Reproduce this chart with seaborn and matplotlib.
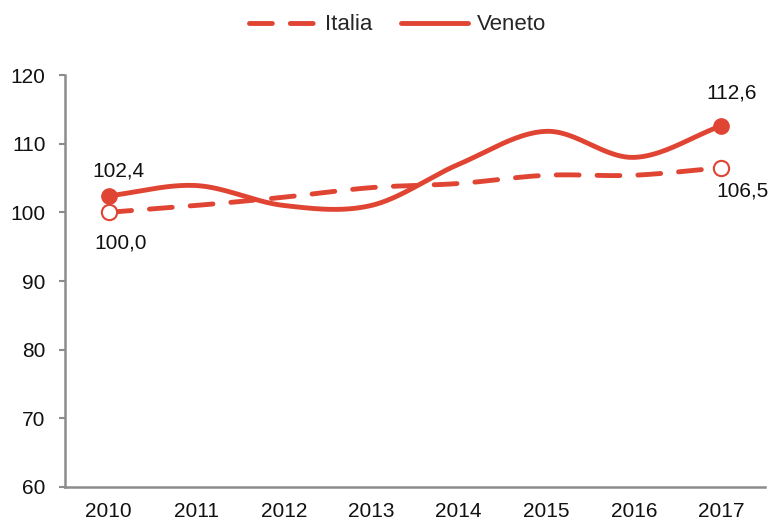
import numpy as np
import pandas as pd
import matplotlib
matplotlib.use("Agg")
import matplotlib.pyplot as plt
import seaborn as sns
from matplotlib.lines import Line2D

# Index values (2010 = 100 for Italia)
anni = [2010, 2011, 2012, 2013, 2014, 2015, 2016, 2017]
italia = [100.0, 101.0, 102.2, 103.6, 104.2, 105.4, 105.4, 106.5]
veneto = [102.4, 103.9, 101.0, 101.0, 107.0, 111.8, 108.0, 112.6]
y_ticks = [60, 70, 80, 90, 100, 110, 120]

ROSSO = "#E04433"
GRIGIO = "#8C8C8C"
DASH = (4.7, 3.7)

sns.set_theme(style="white")
plt.rcParams["font.family"] = ["Liberation Sans", "DejaVu Sans"]


def smooth(xs, ys, n=40):
    """Catmull-Rom curve through the given points."""
    x = np.asarray(xs, float)
    y = np.asarray(ys, float)
    px = np.concatenate([[2 * x[0] - x[1]], x, [2 * x[-1] - x[-2]]])
    py = np.concatenate([[2 * y[0] - y[1]], y, [2 * y[-1] - y[-2]]])
    out_x, out_y = [], []
    t = np.linspace(0, 1, n, endpoint=False)
    for i in range(1, len(px) - 2):
        for p, out in ((px, out_x), (py, out_y)):
            p0, p1, p2, p3 = p[i - 1], p[i], p[i + 1], p[i + 2]
            out.extend(0.5 * ((2 * p1) + (-p0 + p2) * t
                              + (2 * p0 - 5 * p1 + 4 * p2 - p3) * t ** 2
                              + (-p0 + 3 * p1 - 3 * p2 + p3) * t ** 3))
    out_x.append(x[-1])
    out_y.append(y[-1])
    return np.array(out_x), np.array(out_y)


fig = plt.figure(figsize=(7.78, 5.23), dpi=100)
ax = fig.add_axes([65 / 778, 36 / 523, 700 / 778, 412 / 523])

xi, yi = smooth(anni, italia)
xv, yv = smooth(anni, veneto)
df_i = pd.DataFrame({"anno": xi, "valore": yi})
df_v = pd.DataFrame({"anno": xv, "valore": yv})

sns.lineplot(data=df_i, x="anno", y="valore", ax=ax, color=ROSSO, lw=3.5,
             sort=False, estimator=None)
ax.lines[-1].set_dashes(DASH)
ax.lines[-1].set_dash_capstyle("round")
sns.lineplot(data=df_v, x="anno", y="valore", ax=ax, color=ROSSO, lw=3.5,
             sort=False, estimator=None)
ax.lines[-1].set_solid_capstyle("round")

# End-point markers
ends = [0, len(anni) - 1]
ax.plot([anni[i] for i in ends], [italia[i] for i in ends], "o", ms=11,
        mfc="white", mec=ROSSO, mew=1.5, zorder=5)
ax.plot([anni[i] for i in ends], [veneto[i] for i in ends], "o", ms=11,
        mfc=ROSSO, mec=ROSSO, zorder=5)


def fmt(v):
    return f"{v:.1f}".replace(".", ",")


FS = 15
lbl = dict(textcoords="offset pixels", ha="center", va="center",
           fontsize=FS, color="#111111")
ax.annotate(fmt(veneto[0]), (anni[0], veneto[0]), xytext=(10, 25), **lbl)
ax.annotate(fmt(italia[0]), (anni[0], italia[0]), xytext=(12, -31), **lbl)
ax.annotate(fmt(veneto[-1]), (anni[-1], veneto[-1]), xytext=(10, 33), **lbl)
ax.annotate(fmt(italia[-1]), (anni[-1], italia[-1]), xytext=(21, -23), **lbl)

ax.set_xlim(anni[0] - 0.5, anni[-1] + 0.5)
ax.set_ylim(60, 120)
ax.set_xticks(anni)
ax.set_xticklabels([str(a) for a in anni])
ax.set_yticks(y_ticks)
ax.set_xlabel("")
ax.set_ylabel("")

for s in ("top", "right"):
    ax.spines[s].set_visible(False)
for s in ("left", "bottom"):
    ax.spines[s].set_color(GRIGIO)
    ax.spines[s].set_linewidth(1.8)
ax.tick_params(axis="y", length=4, width=1.5, color=GRIGIO, pad=10,
               labelsize=FS, labelcolor="#111111", left=True)
ax.tick_params(axis="x", length=0, pad=11, labelsize=FS, labelcolor="#111111")
ax.grid(False)

handles = [
    Line2D([], [], color=ROSSO, lw=3.5, dashes=DASH, dash_capstyle="round"),
    Line2D([], [], color=ROSSO, lw=3.5, solid_capstyle="round"),
]
fig.legend(handles, ["Italia", "Veneto"], loc="center",
           bbox_to_anchor=(0.511, 1 - 25 / 523), ncol=2, frameon=False,
           fontsize=16, handlelength=3.0, handletextpad=0.4,
           columnspacing=1.3)

fig.savefig("out.png", dpi=100)
